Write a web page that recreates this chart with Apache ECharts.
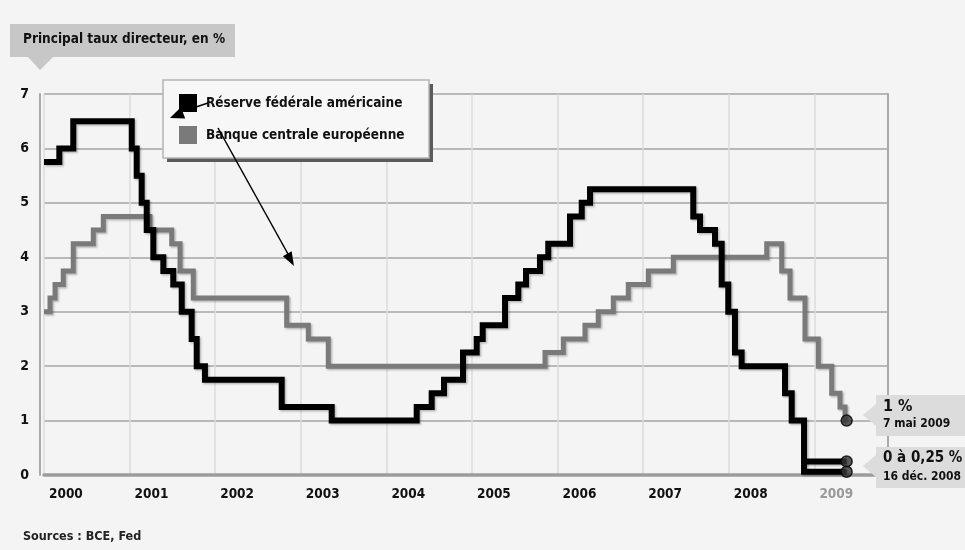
<!DOCTYPE html>
<html>
<head>
<meta charset="utf-8">
<script src="https://cdn.jsdelivr.net/npm/echarts@6/dist/echarts.min.js"></script>
<style>
html,body{margin:0;padding:0;background:#f4f4f4;}
#chart{width:965px;height:550px;}
</style>
</head>
<body>
<div id="chart"></div>
<script>
// ---- data (decimal years of each rate change, new rate in %) ----
var fedDates = [2000.0, 2000.179, 2000.342, 2001.025, 2001.083, 2001.141, 2001.2, 2001.277, 2001.394, 2001.51, 2001.609, 2001.725, 2001.784, 2001.88, 2002.777, 2003.361, 2004.354, 2004.529, 2004.673, 2004.895, 2005.055, 2005.125, 2005.386, 2005.541, 2005.631, 2005.794, 2005.891, 2006.145, 2006.282, 2006.379, 2007.585, 2007.664, 2007.839, 2007.917, 2007.994, 2008.072, 2008.15, 2008.657, 2008.735, 2008.879, 2009.377];
var fedRates = [5.75, 6.0, 6.5, 6.0, 5.5, 5.0, 4.5, 4.0, 3.75, 3.5, 3.0, 2.5, 2.0, 1.75, 1.25, 1.0, 1.25, 1.5, 1.75, 2.25, 2.5, 2.75, 3.25, 3.5, 3.75, 4.0, 4.25, 4.75, 5.0, 5.25, 4.75, 4.5, 4.25, 3.5, 3.0, 2.25, 2.0, 1.5, 1.0, 0.25, 0.25];
var fedLowDates = [2008.879, 2008.879, 2009.377];
var fedLowRates = [0.25, 0.06, 0.06];
var ecbDates = [2000.0, 2000.07, 2000.129, 2000.225, 2000.342, 2000.576, 2000.693, 2001.238, 2001.492, 2001.589, 2001.744, 2002.835, 2003.088, 2003.321, 2005.853, 2006.067, 2006.32, 2006.475, 2006.651, 2006.826, 2007.06, 2007.352, 2008.443, 2008.618, 2008.715, 2008.89, 2009.046, 2009.202, 2009.299, 2009.358, 2009.377];
var ecbRates = [3.0, 3.25, 3.5, 3.75, 4.25, 4.5, 4.75, 4.5, 4.25, 3.75, 3.25, 2.75, 2.5, 2.0, 2.25, 2.5, 2.75, 3.0, 3.25, 3.5, 3.75, 4.0, 4.25, 3.75, 3.25, 2.5, 2.0, 1.5, 1.25, 1.0, 1.0];
var yearMin = 2000, yearMax = 2009.86;
var yTicks = [0, 1, 2, 3, 4, 5, 6, 7];
var fedName = 'Réserve fédérale américaine';
var ecbName = 'Banque centrale européenne';
var titleText = 'Principal taux directeur, en %';
var sourceText = 'Sources : BCE, Fed';
var callout1 = ['1 %', '7 mai 2009'];
var callout2 = ['0 à 0,25 %', '16 déc. 2008'];

var FONT = "'DejaVu Sans Condensed', 'Liberation Sans Narrow', 'DejaVu Sans', sans-serif";

function pairs(xs, ys) { return xs.map(function (x, i) { return [x, ys[i]]; }); }
function last(xs, ys) { return [xs[xs.length - 1], ys[ys.length - 1]]; }

var chart = echarts.init(document.getElementById('chart'), null, {renderer: 'canvas'});

var shadow = {shadowColor: 'rgba(0,0,0,0.25)', shadowBlur: 2, shadowOffsetX: 1.5, shadowOffsetY: 1.5};

function arrowHead(tip, from, len, half) {
  var dx = tip[0] - from[0], dy = tip[1] - from[1];
  var d = Math.sqrt(dx * dx + dy * dy); dx /= d; dy /= d;
  var bx = tip[0] - dx * len, by = tip[1] - dy * len;
  return [tip, [bx - dy * half, by + dx * half], [bx + dy * half, by - dx * half]];
}

var option = {
  backgroundColor: '#f4f4f4',
  animation: false,
  textStyle: {fontFamily: FONT},
  grid: {left: 44, right: 77, top: 94, bottom: 75, containLabel: false},
  legend: {
    data: [fedName, ecbName],
    orient: 'vertical',
    left: 163, top: 80, z: 6,
    icon: 'rect',
    itemWidth: 18, itemHeight: 18, itemGap: 14,
    padding: [14, 26, 13, 16],
    selectedMode: false,
    textStyle: {fontFamily: FONT, fontWeight: 'bold', fontSize: 13.5, color: '#111', padding: [0, 0, 0, 4]}
  },
  xAxis: {
    type: 'value', min: yearMin, max: yearMax, interval: 1,
    axisLine: {show: true, onZero: false, lineStyle: {color: '#9c9c9c', width: 3.5}},
    axisTick: {show: false},
    splitLine: {show: true, lineStyle: {color: '#dddddd', width: 1.5}},
    axisLabel: {
      margin: 12, align: 'left', padding: [0, 0, 0, 5],
      formatter: function (v) {
        if (Math.abs(v - Math.round(v)) > 1e-6) return '';
        var y = Math.round(v);
        return y === 2009 ? '{g|' + y + '}' : '{b|' + y + '}';
      },
      rich: {
        b: {fontFamily: FONT, fontWeight: 'bold', fontSize: 13.5, color: '#111'},
        g: {fontFamily: FONT, fontWeight: 'bold', fontSize: 13.5, color: '#9a9a9a'}
      }
    }
  },
  yAxis: [{
    type: 'value', min: yTicks[0], max: yTicks[yTicks.length - 1], interval: 1, offset: 4,
    axisLine: {show: true, lineStyle: {color: '#aaaaaa', width: 2}},
    axisTick: {show: false},
    splitLine: {show: true, lineStyle: {color: '#a6a6a6', width: 1.5}},
    axisLabel: {margin: 11, fontFamily: FONT, fontWeight: 'bold', fontSize: 14, color: '#111'}
  }, {
    type: 'value', position: 'right', min: yTicks[0], max: yTicks[yTicks.length - 1], interval: 1,
    axisLine: {show: true, lineStyle: {color: '#aaaaaa', width: 2}},
    axisTick: {show: false}, axisLabel: {show: false}, splitLine: {show: false}
  }],
  series: [{
    name: ecbName, type: 'line', step: 'end', z: 2,
    data: pairs(ecbDates, ecbRates),
    symbol: 'none',
    itemStyle: {color: '#7a7a7a'},
    lineStyle: Object.assign({color: '#7a7a7a', width: 5, join: 'miter', cap: 'butt'}, shadow)
  }, {
    name: fedName, type: 'line', step: 'end', z: 3,
    data: pairs(fedDates, fedRates),
    symbol: 'none',
    itemStyle: {color: '#000'},
    lineStyle: Object.assign({color: '#000', width: 6, join: 'miter', cap: 'butt'}, shadow)
  }, {
    name: 'fedLow', type: 'line', z: 3,
    data: pairs(fedLowDates, fedLowRates),
    symbol: 'none',
    itemStyle: {color: '#000'},
    lineStyle: Object.assign({color: '#000', width: 6, join: 'miter', cap: 'butt'}, shadow)
  }, {
    name: 'ends', type: 'scatter', z: 5,
    data: [last(ecbDates, ecbRates), last(fedDates, fedRates), last(fedLowDates, fedLowRates)],
    symbol: 'circle', symbolSize: 11,
    itemStyle: {color: '#353535', borderColor: '#000', borderWidth: 1.5}
  }],
  graphic: [
    // legend box with hard shadow
    {type: 'rect', shape: {x: 167, y: 84, width: 266, height: 78}, style: {fill: '#5a5a5a'}, z: 4},
    {type: 'rect', shape: {x: 163, y: 80, width: 266, height: 78}, style: {fill: '#f7f7f7', stroke: '#b4b4b4', lineWidth: 1.5}, z: 5},
    // title box
    {type: 'polygon', shape: {points: [[10, 24], [235, 24], [235, 57], [53, 57], [40, 70], [28, 57], [10, 57]]},
      style: {fill: '#c7c7c7'}, z: 10},
    {type: 'text', left: 23, top: 32, style: {text: titleText, font: 'bold 13.5px ' + FONT, fill: '#111'}, z: 11},
    // source
    {type: 'text', left: 23, top: 530, style: {text: sourceText, font: 'bold 12.5px ' + FONT, fill: '#222'}, z: 11},
    // callout 1
    {type: 'polygon', shape: {points: [[863, 415], [876, 404], [876, 395], [965, 395], [965, 436], [876, 436], [876, 426]]},
      style: {fill: '#dcdcdc'}, z: 10},
    {type: 'text', left: 883, top: 399, style: {text: callout1[0], font: 'bold 16px ' + FONT, fill: '#111'}, z: 11},
    {type: 'text', left: 883, top: 418, style: {text: callout1[1], font: 'bold 12px ' + FONT, fill: '#111'}, z: 11},
    // callout 2
    {type: 'polygon', shape: {points: [[863, 466], [876, 455], [876, 447], [965, 447], [965, 488], [876, 488], [876, 477]]},
      style: {fill: '#dcdcdc'}, z: 10},
    {type: 'text', left: 883, top: 451, style: {text: callout2[0], font: 'bold 15px ' + FONT, fill: '#111'}, z: 11},
    {type: 'text', left: 883, top: 471, style: {text: callout2[1], font: 'bold 12px ' + FONT, fill: '#111'}, z: 11},
    // stray arrows
    {type: 'line', shape: {x1: 208, y1: 103, x2: 181, y2: 112}, style: {stroke: '#000', lineWidth: 1.5}, z: 12},
    {type: 'polygon', shape: {points: arrowHead([170, 118], [208, 103], 14, 6)}, style: {fill: '#000'}, z: 12},
    {type: 'line', shape: {x1: 218, y1: 128, x2: 288, y2: 254}, style: {stroke: '#000', lineWidth: 1.5}, z: 12},
    {type: 'polygon', shape: {points: arrowHead([294, 266], [218, 128], 14, 5)}, style: {fill: '#000'}, z: 12}
  ]
};
chart.setOption(option);
</script>
</body>
</html>
